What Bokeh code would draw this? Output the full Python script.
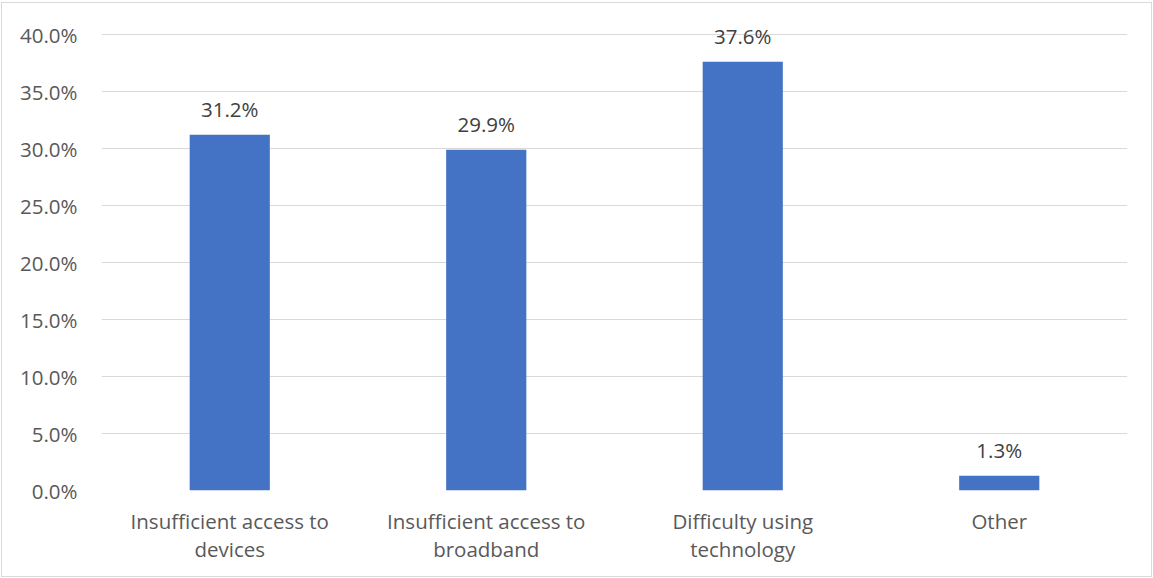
from bokeh.plotting import figure
from bokeh.models import ColumnDataSource, LabelSet, FixedTicker, NumeralTickFormatter, Range1d
from bokeh.core.properties import value
from bokeh.embed import file_html
from bokeh.resources import INLINE

# Two-line category names, as shown under the bars
categories = ["Insufficient access to\ndevices", "Insufficient access to\nbroadband",
              "Difficulty using\ntechnology", "Other"]
shares = [0.312, 0.299, 0.376, 0.013]
y_ticks = [0.0, 0.05, 0.10, 0.15, 0.20, 0.25, 0.30, 0.35, 0.40]
y_max = 0.40

FONT = "Open Sans"
SIZE = "20.5px"
AXIS_TEXT = "#595959"
LABEL_TEXT = "#404040"
GRID = "#d9d9d9"
BAR = "#4472c4"

# layout in pixels; the frame runs a little above the top tick so the
# value label of the tallest bar is not clipped
W, H = 1151, 575
B_LEFT, B_RIGHT, B_TOP, B_BOTTOM = 99, 26, 8, 88
HEADROOM = 23
frame_h = H - B_TOP - B_BOTTOM
y_end = y_max * frame_h / (frame_h - HEADROOM)

source = ColumnDataSource(dict(
    cat=categories,
    val=shares,
    txt=[f"{v * 100:.1f}%" for v in shares],
))

p = figure(
    x_range=categories,
    y_range=Range1d(0, y_end),
    width=W, height=H,
    output_backend="svg",
    toolbar_location=None,
    min_border_left=B_LEFT, min_border_right=B_RIGHT,
    min_border_top=B_TOP, min_border_bottom=B_BOTTOM,
)
p.styles = {"border": "1px solid #d9d9d9", "margin-left": "1px", "margin-top": "2px"}

p.vbar(x="cat", top="val", width=0.3125, source=source, color=BAR, line_color=None)

labels = LabelSet(x="cat", y="val", text="txt", source=source,
                  text_align="center", text_baseline="alphabetic", y_offset=18,
                  text_font=value(FONT), text_font_size=value(SIZE),
                  text_color=value(LABEL_TEXT))
p.add_layout(labels)

p.outline_line_color = None
p.background_fill_color = "white"
p.border_fill_color = "white"

p.xgrid.grid_line_color = None
p.ygrid.grid_line_color = GRID
p.ygrid.grid_line_width = 1

p.yaxis.ticker = FixedTicker(ticks=y_ticks)
p.yaxis.formatter = NumeralTickFormatter(format="0.0%")
p.yaxis.axis_line_color = None
p.yaxis.major_tick_line_color = None
p.yaxis.minor_tick_line_color = None
p.yaxis.major_label_standoff = 18
p.yaxis.major_label_text_font = FONT
p.yaxis.major_label_text_font_size = SIZE
p.yaxis.major_label_text_color = AXIS_TEXT

p.xaxis.axis_line_color = None
p.xaxis.major_tick_line_color = None
p.xaxis.major_label_standoff = 10
p.xaxis.major_label_text_font = FONT
p.xaxis.major_label_text_font_size = SIZE
p.xaxis.major_label_text_color = AXIS_TEXT
p.xaxis.major_label_text_line_height = 1.0
p.x_range.range_padding = 0.0

open("out.html", "w").write(file_html(p, INLINE))
